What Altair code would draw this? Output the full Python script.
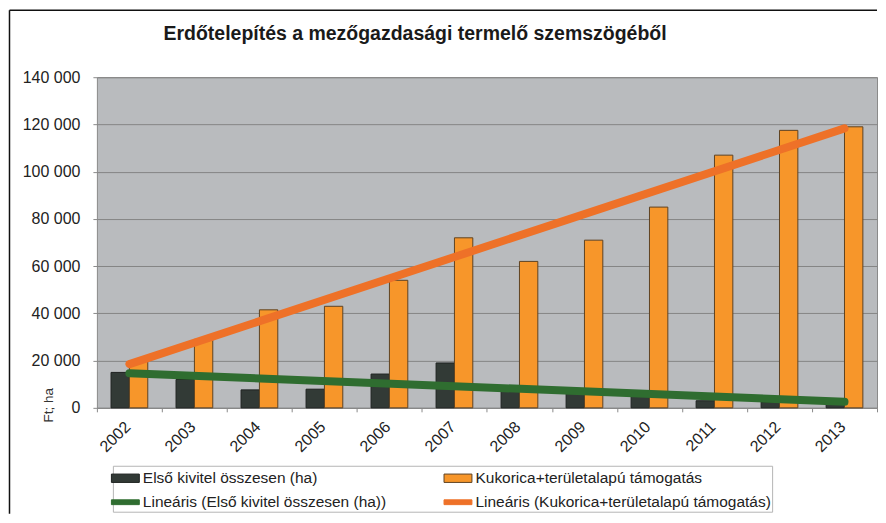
import altair as alt
import pandas as pd

# ---- data ----
years = [2002, 2003, 2004, 2005, 2006, 2007, 2008, 2009, 2010, 2011, 2012, 2013]
elso_kivitel = [15000, 12000, 7600, 7900, 14300, 19000, 8500, 7000, 5000, 3000, 2500, 1500]
kukorica = [20000, 29000, 41500, 43000, 54000, 72000, 62000, 71000, 85000, 107000, 117500, 119000]
series_names = ["Első kivitel összesen (ha)", "Kukorica+területalapú támogatás"]
trend_names = ["Lineáris (" + s + ")" for s in series_names]
y_ticks = [0, 20000, 40000, 60000, 80000, 100000, 120000, 140000]
title_text = "Erdőtelepítés a mezőgazdasági termelő szemszögéből"
y_title = "Ft; ha"

rows = []
for i, y in enumerate(years):
    rows.append({"ev": y, "sorozat": series_names[0], "ertek": elso_kivitel[i]})
    rows.append({"ev": y, "sorozat": series_names[1], "ertek": kukorica[i]})
df = pd.DataFrame(rows)

FONT = "Liberation Sans, Arial, sans-serif"
# legend is filled column by column: first column = dark series, second = orange series
legend_order = [series_names[0], trend_names[0], series_names[1], trend_names[1]]
fill_scale = alt.Scale(domain=legend_order, range=["#323a36", "#2f6d30", "#f7962a", "#ee7128"])
stroke_scale = alt.Scale(domain=legend_order, range=["#1e2220", "#2f6d30", "#5e4222", "#ee7128"])
bar_path = "M-1.27,-0.38H1.27V0.38H-1.27Z"
line_path = "M-1.27,-0.22H1.27V0.22H-1.27Z"
shape_scale = alt.Scale(domain=legend_order, range=[bar_path, line_path, bar_path, line_path])
legend = alt.Legend(
    title=None, orient="none", legendX=16, legendY=389, columns=2,
    columnPadding=55, rowPadding=4, symbolSize=484, symbolStrokeWidth=1,
    symbolOpacity=1, labelFontSize=15.5, labelFont=FONT, labelColor="#222222",
    labelLimit=0, labelOffset=6, strokeColor="#b5b5b5", padding=1, fillColor="white",
)

x_enc = alt.X(
    "ev:O",
    scale=alt.Scale(domain=years, paddingInner=0, paddingOuter=0),
    axis=alt.Axis(
        title=None, labelAngle=-45, labelAlign="right", labelBaseline="middle",
        labelFontSize=16, labelFont=FONT, labelColor="#222222", labelPadding=12,
        labelOffset=-2,
        tickBand="extent", tickSize=4, tickColor="#8a8a8a", domainColor="#8a8a8a",
        grid=False,
    ),
)
y_enc = alt.Y(
    "ertek:Q",
    scale=alt.Scale(domain=[0, 140000], nice=False),
    axis=alt.Axis(
        values=y_ticks, title=y_title, titleFontSize=13.5, titleFont=FONT,
        titleFontWeight="normal", titleColor="#333333", titleX=-48, titleY=328,
        titleAngle=-90, titleAlign="center", titleBaseline="middle",
        labelExpr="replace(format(datum.value, ','), ',', ' ')",
        labelFontSize=16, labelFont=FONT, labelColor="#222222", labelPadding=13,
        tickSize=4, tickColor="#8a8a8a", domain=False,
        gridColor="#858585", gridWidth=1, gridOpacity=1,
    ),
)

bars = alt.Chart(df).mark_bar(strokeWidth=1).encode(
    x=x_enc,
    y=y_enc,
    xOffset=alt.XOffset("sorozat:N", scale=alt.Scale(domain=series_names, paddingInner=0, paddingOuter=0.77)),
    fill=alt.Fill("sorozat:N", scale=fill_scale, legend=legend),
    stroke=alt.Stroke("sorozat:N", scale=stroke_scale, legend=legend),
)

trend = alt.Chart(df).transform_regression(
    "ev", "ertek", groupby=["sorozat"], method="linear"
).transform_calculate(
    sorozat="'Lineáris (' + datum.sorozat + ')'"
).mark_line(strokeWidth=8, strokeCap="round").encode(
    x="ev:O",
    y="ertek:Q",
    stroke=alt.Stroke("sorozat:N", scale=stroke_scale, legend=legend),
)

legend_keys = alt.Chart(df).transform_filter("false").mark_point(filled=True, opacity=1).encode(
    x="ev:O",
    y="ertek:Q",
    fill=alt.Fill("sorozat:N", scale=fill_scale, legend=legend),
    stroke=alt.Stroke("sorozat:N", scale=stroke_scale, legend=legend),
    shape=alt.Shape("sorozat:N", scale=shape_scale, legend=legend),
)

one = pd.DataFrame({"k": [0]})
frame_left = alt.Chart(one).mark_rule(color="#111111", strokeWidth=1.5).encode(
    x=alt.value(-87.5), y=alt.value(-67), y2=alt.value(437)
)
frame_top = alt.Chart(one).mark_rule(color="#111111", strokeWidth=1.5).encode(
    x=alt.value(-87.5), x2=alt.value(781), y=alt.value(-67)
)

chart = alt.layer(bars, trend, legend_keys, frame_left, frame_top).properties(
    width=781,
    height=331,
    background="white",
    padding={"left": 0, "top": 1, "right": 0, "bottom": 0},
    title=alt.TitleParams(
        title_text, fontSize=19.5, font=FONT, fontWeight="bold", color="#1a1a1a",
        anchor="middle", frame="group", dx=-72, offset=-50, baseline="alphabetic",
    ),
).configure_view(
    fill="#b9bbbe", stroke="#8a8a8a", strokeWidth=1
)

chart.save("out.html", embed_options={"renderer": "svg", "actions": False})
